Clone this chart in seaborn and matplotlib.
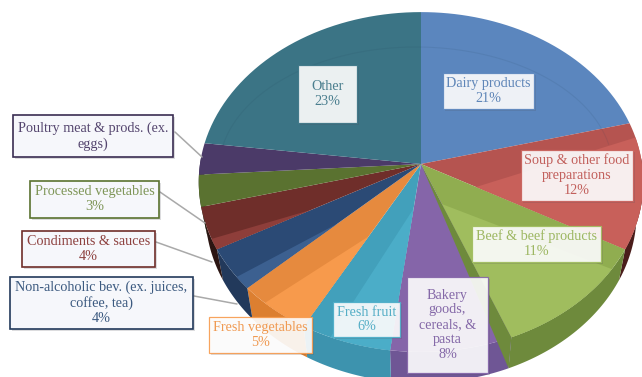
import numpy as np
import matplotlib
matplotlib.use("Agg")
import matplotlib.pyplot as plt
from matplotlib.patches import Rectangle
import seaborn as sns

# Food categories, clockwise from twelve o'clock
categories = ["Dairy products", "Soup & other food\npreparations", "Beef & beef products",
              "Bakery\ngoods,\ncereals, &\npasta", "Fresh fruit", "Fresh vegetables",
              "Non-alcoholic bev. (ex. juices,\ncoffee, tea)", "Condiments & sauces",
              "Processed vegetables", "Poultry meat & prods. (ex.\neggs)", "Other"]
shares = [21, 12, 11, 8, 6, 5, 4, 4, 3, 3, 23]
show_share = [True] * 9 + [False, True]

face_colors = ["#5B86BE", "#B55450", "#90AD50", "#8565A9", "#42A0BB", "#E68A3E",
               "#2B4A75", "#6F2E2A", "#5A7230", "#4B3A68", "#3B7485"]
light_colors = ["#5B86BE", "#C8605A", "#A0BD5E", "#8565A9", "#4BADC8", "#F79A4C",
                "#3C6090", "#8E3E3A", "#5A7230", "#5A4A78", "#3B7485"]
wall_colors = ["#47699A", "#4A1D1B", "#6E8A3C", "#6F5695", "#3D93AE", "#DC7F30",
               "#22395B", "#2B1512", "#262A18", "#3A2D52", "#2D5A68"]
text_colors = ["#5F86B8", "#C2605C", "#9DB762", "#8569A8", "#55AEC6", "#F09A52",
               "#3C5A80", "#8E4240", "#7F9658", "#55466F", "#4A7E8E"]
palette = sns.color_palette(face_colors)

# Lighter facet on each slice: slice index, start along the rim, tip along the spoke, lit side
light_facets = [(1, 0.12, 0.28, "end"), (2, 0.18, 0.25, "end"), (4, 0.67, 0.26, "start"),
                (5, 0.65, 0.47, "start"), (6, 0.30, 0.50, "start"), (7, 0.25, 0.55, "start")]

# Label boxes in figure pixels: left, right, top, bottom
boxes = [(443, 534, 73, 109), (521, 633, 150, 201), (472, 601, 226, 262), (407, 488, 277, 373),
         (333, 400, 302, 337), (209, 312, 317, 353), (10, 193, 277, 329), (22, 155, 231, 267),
         (30, 159, 181, 218), (13, 173, 115, 157), (298, 357, 65, 123)]
is_outside = [False] * 6 + [True] * 4 + [False]
leaders = {6: ((194, 296), (237, 304)), 7: ((156, 242), (212, 262)),
           8: ((160, 192), (205, 223)), 9: ((175, 132), (202, 157))}

CX, CY, RX, RY, PERSPECTIVE = 421, 164, 221, 168, 0.106
DEPTH, BASE_SHRINK = 31, 0.97


def project(theta, radius=1.0):
    """Map a point on the tilted disc to figure pixels."""
    u, v = radius * np.sin(theta), -radius * np.cos(theta)
    w = 1 - PERSPECTIVE * v
    return CX + RX * u / w, CY + RY * v / w


def rim(a, b, n=40):
    return project(np.linspace(a, b, n))


sns.set_theme(style="white")
plt.rcParams["font.family"] = ["Liberation Serif", "DejaVu Serif"]
fig = plt.figure(figsize=(6.42, 3.77), dpi=100)
ax = fig.add_axes([0, 0, 1, 1])
ax.set_xlim(0, 642)
ax.set_ylim(377, 0)
ax.axis("off")

edges = np.radians(np.cumsum([0] + shares) * 360 / sum(shares))

# Outer wall of the slices facing the viewer
for i, (a, b) in enumerate(zip(edges[:-1], edges[1:])):
    lo, hi = max(a, np.radians(88)), min(b, np.radians(272))
    if lo >= hi:
        continue
    x, y = rim(lo, hi)
    xb = CX + (x - CX) * BASE_SHRINK
    yb = y + DEPTH
    ax.fill(np.r_[x, xb[::-1]], np.r_[y, yb[::-1]], color=wall_colors[i], lw=0, zorder=1)

# Top faces
for i, (a, b) in enumerate(zip(edges[:-1], edges[1:])):
    x, y = rim(a, b)
    ax.fill(np.r_[CX, x], np.r_[CY, y], color=palette[i], lw=0, zorder=2)

# Lighter facets on the lower slices
for i, rim_frac, tip_frac, side in light_facets:
    a, b = edges[i], edges[i + 1]
    if side == "end":
        x, y = rim(a + rim_frac * (b - a), b)
        tx, ty = project(b, tip_frac)
    else:
        x, y = rim(a, a + rim_frac * (b - a))
        tx, ty = project(a, tip_frac)
    ax.fill(np.r_[tx, x], np.r_[ty, y], color=light_colors[i], lw=0, zorder=3)

# Spoke wall of the beef slice, standing over the bakery slice
rx_pt, ry_pt = project(edges[3])
ax.fill([CX, rx_pt, CX + (rx_pt - CX) * BASE_SHRINK], [CY, ry_pt, ry_pt + DEPTH],
        color=wall_colors[2], lw=0, zorder=4)

# Faint bevel line across the far half of the disc
t = np.linspace(np.radians(-78), np.radians(78), 80)
ax.plot(416 + 197 * np.sin(t), 170 - 123 * np.cos(t), color="#1F3F55", alpha=0.1, lw=0.8, zorder=4)

# Leader lines
for (x0, y0), (x1, y1) in leaders.values():
    ax.plot([x0, x1], [y0, y1], color="#A9A9A9", lw=1.1, zorder=5)

# Labels
for i, (l, r, t_, b_) in enumerate(boxes):
    w, h = r - l, b_ - t_
    ax.add_patch(Rectangle((l + 2, t_ + 2), w, h, fc="#50505A", ec="none", alpha=0.2, zorder=5))
    if is_outside[i]:
        ax.add_patch(Rectangle((l, t_), w, h, fc="#F6F7FB", ec=wall_colors[i] if i != 7 and i != 8
                               else face_colors[i], lw=1.2, zorder=6))
    else:
        ax.add_patch(Rectangle((l, t_), w, h, fc="#FFFFFF", ec=light_colors[i], alpha=0.9, lw=0.9, zorder=6))
    label = categories[i] + (f"\n{shares[i]}%" if show_share[i] else "")
    ax.text((l + r) / 2, (t_ + b_) / 2, label, ha="center", va="center", ma="center",
            color=text_colors[i], fontsize=10.2, linespacing=1.2, zorder=7)

fig.savefig("out.png", dpi=100, facecolor="white")
